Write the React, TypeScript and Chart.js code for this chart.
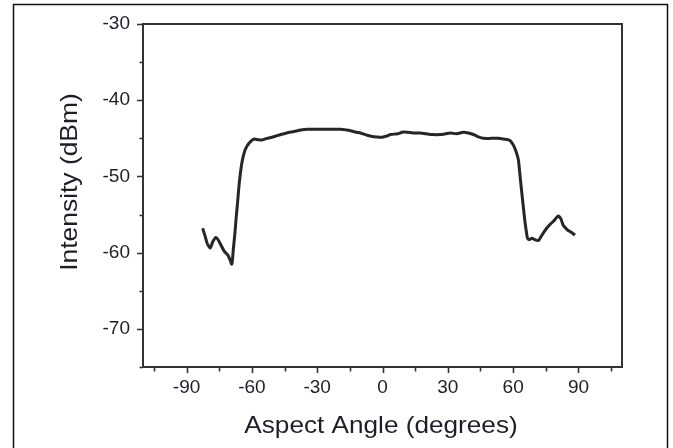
import React, { useEffect, useRef } from "react";
import { Chart, registerables } from "chart.js";

Chart.register(...registerables);

const angles = [
  -82.6, -81.5, -80.5, -79.1, -78, -76.5, -75.5, -74.2, -72.7, -71.1, -70.2, -69.2,
  -68.5, -67.8, -67.3, -66.5, -65.8, -65.0, -64.3, -63.2, -62, -60.5, -58.9, -57,
  -55.1, -53, -51.3, -49, -46.7, -44, -40.6, -37.5, -34.5, -30, -25, -19.2, -16.5,
  -14.7, -12, -10.1, -7, -4, -0.1, 2, 3.7, 7, 9, 11.3, 14, 17.4, 20, 23, 26.6, 29,
  31.1, 34, 37.2, 39.5, 41.8, 44, 46.4, 50, 53.3, 55.5, 57.9, 59, 60.1, 61.3, 62.4,
  63.2, 64, 64.8, 65.5, 66.1, 66.6, 67.5, 68.6, 70, 71.6, 72.8, 73.9, 75.4, 76.9,
  78.8, 80.7, 82, 83, 84.9, 86.5, 88.4,
];

const intensity = [
  -56.8, -57.8, -58.8, -59.4, -58.6, -58.0, -58.3, -59.0, -59.8, -60.3, -60.8, -61.5,
  -59.5, -57.5, -55.7, -53.2, -50.9, -49.0, -47.8, -46.6, -45.9, -45.4, -45.1, -45.2,
  -45.2, -45.0, -44.9, -44.7, -44.5, -44.3, -44.1, -43.9, -43.8, -43.8, -43.8, -43.8, -43.9,
  -44.0, -44.2, -44.3, -44.6, -44.8, -44.85, -44.7, -44.5, -44.4, -44.2, -44.2, -44.3, -44.3, -44.4, -44.5, -44.5, -44.4,
  -44.3, -44.4, -44.2, -44.3, -44.5, -44.8, -45.0, -45.0, -45.0, -45.1, -45.2, -45.4, -45.9, -46.7, -47.8,
  -50.0, -52.2, -54.3, -56.1, -57.3, -58.1, -58.3, -58.1, -58.3, -58.4, -57.9, -57.4, -56.8, -56.3,
  -55.8, -55.2, -55.6, -56.4, -57.0, -57.3, -57.7,
];

const xMajorTicks = [-90, -60, -30, 0, 30, 60, 90];
const xMinorTicks = [-105, -75, -45, -15, 15, 45, 75, 105];
const yMajorTicks = [-30, -40, -50, -60, -70];
const yMinorTicks = [-35, -45, -55, -65, -75];

const xTitle = "Aspect Angle (degrees)";
const yTitle = "Intensity (dBm)";

const FONT = "'Liberation Sans', Arial, sans-serif";
const AXIS_COLOR = "#333333";
const TEXT_COLOR = "#1e1e28";

const decorPlugin = {
  id: "decor",
  afterDraw(chart: any) {
    const ctx = chart.ctx as CanvasRenderingContext2D;
    const { left, right, top, bottom } = chart.chartArea;
    const xs = chart.scales.x;
    const ys = chart.scales.y;
    ctx.save();
    // plot frame
    ctx.strokeStyle = AXIS_COLOR;
    ctx.lineWidth = 2;
    ctx.strokeRect(left, top, right - left, bottom - top);
    // tick marks
    ctx.lineWidth = 1.6;
    ctx.beginPath();
    yMajorTicks.forEach((v) => {
      const p = Math.round(ys.getPixelForValue(v)) + 0.5;
      ctx.moveTo(left - 6, p);
      ctx.lineTo(left, p);
    });
    yMinorTicks.forEach((v) => {
      const p = Math.round(ys.getPixelForValue(v)) + 0.5;
      ctx.moveTo(left - 3.5, p);
      ctx.lineTo(left, p);
    });
    xMajorTicks.forEach((v) => {
      const p = Math.round(xs.getPixelForValue(v)) + 0.5;
      ctx.moveTo(p, bottom);
      ctx.lineTo(p, bottom + 6);
    });
    xMinorTicks.forEach((v) => {
      const p = Math.round(xs.getPixelForValue(v)) + 0.5;
      ctx.moveTo(p, bottom);
      ctx.lineTo(p, bottom + 4.5);
    });
    ctx.stroke();

    // axis titles
    ctx.fillStyle = TEXT_COLOR;
    ctx.font = `24px ${FONT}`;
    ctx.textAlign = "center";
    ctx.textBaseline = "alphabetic";
    ctx.save();
    ctx.translate(381, 433);
    ctx.scale(1.09, 1);
    ctx.fillText(xTitle, 0, 0);
    ctx.restore();

    ctx.save();
    ctx.translate(77, 182);
    ctx.rotate(-Math.PI / 2);
    ctx.scale(1.1, 1);
    ctx.fillText(yTitle, 0, 0);
    ctx.restore();

    // outer border
    ctx.strokeStyle = "#111111";
    ctx.lineWidth = 1.5;
    ctx.strokeRect(13.5, 4.5, 654, 470);
    ctx.restore();
  },
};

export default function App() {
  const canvasRef = useRef<HTMLCanvasElement | null>(null);

  useEffect(() => {
    const canvas = canvasRef.current;
    if (!canvas) return;
    const chart = new Chart(canvas, {
      type: "line",
      data: {
        datasets: [
          {
            data: angles.map((a, i) => ({ x: a, y: intensity[i] })),
            borderColor: "#262626",
            borderWidth: 3,
            pointRadius: 0,
            tension: 0.25,
            fill: false,
          },
        ],
      },
      options: {
        responsive: false,
        animation: false,
        layout: { padding: { top: 24, right: 51, left: 0, bottom: 0 } },
        plugins: {
          legend: { display: false },
          tooltip: { enabled: false },
        },
        scales: {
          x: {
            type: "linear",
            min: -110,
            max: 110,
            afterFit: (s: any) => {
              s.height = 81;
            },
            border: { display: false },
            grid: {
              display: true,
              drawOnChartArea: false,
              drawTicks: true,
              tickLength: 6,
              tickColor: "rgba(0,0,0,0)",
            },
            ticks: {
              stepSize: 15,
              autoSkip: false,
              maxRotation: 0,
              padding: 3,
              color: TEXT_COLOR,
              font: { family: FONT, size: 19 },
              callback: (v: any) => (xMajorTicks.includes(Number(v)) ? String(v) : ""),
            },
          },
          y: {
            type: "linear",
            min: -75,
            max: -30,
            afterFit: (s: any) => {
              s.width = 143;
            },
            border: { display: false },
            grid: {
              display: true,
              drawOnChartArea: false,
              drawTicks: true,
              tickLength: 6,
              tickColor: "rgba(0,0,0,0)",
            },
            ticks: {
              stepSize: 5,
              autoSkip: false,
              padding: 7,
              color: TEXT_COLOR,
              font: { family: FONT, size: 19 },
              callback: (v: any) => (yMajorTicks.includes(Number(v)) ? String(v) : ""),
            },
          },
        },
      },
      plugins: [decorPlugin],
    });
    return () => chart.destroy();
  }, []);

  return (
    <div style={{ position: "fixed", left: 0, top: 0, width: 673, height: 448, background: "#fff" }}>
      <canvas ref={canvasRef} width={673} height={448} style={{ display: "block" }} />
    </div>
  );
}
